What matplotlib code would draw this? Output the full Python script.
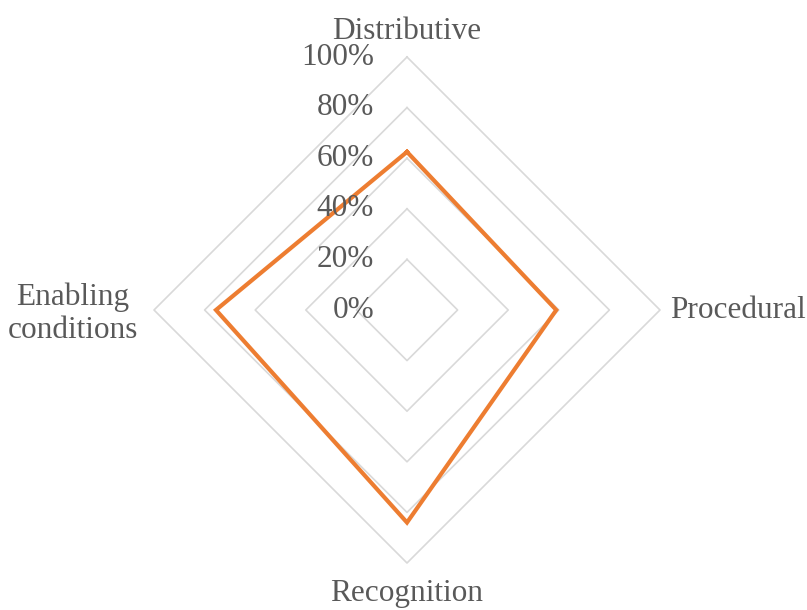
import numpy as np
import matplotlib
matplotlib.use("Agg")
from matplotlib import pyplot as plt

# Valeurs (en %)
categories = ["Distributive", "Procedural", "Recognition", "Enabling\nconditions"]
values = [62.5, 59, 84, 75.5]
grid_levels = [20, 40, 60, 80, 100]
tick_labels = ["0%", "20%", "40%", "60%", "80%", "100%"]

plt.rcParams['font.family'] = ['Liberation Serif', 'DejaVu Serif']
text_col = "#595959"

fig = plt.figure(figsize=(8.07, 6.10), dpi=100)
ax = fig.add_axes([0, 0, 1, 1])
ax.set_xlim(-407/253, 400/253)
ax.set_ylim(-300/253, 310/253)
ax.set_aspect("equal")
ax.axis("off")

n = len(categories)
theta = np.arange(n) * 2*np.pi/n  # sens horaire depuis le haut
theta_c = np.append(theta, theta[0])

# grille en losange
for lv in grid_levels:
    r = lv/100
    ax.plot(r*np.sin(theta_c), r*np.cos(theta_c), color="#D9D9D9", lw=1.2, zorder=1)

# série
v = np.array(values + [values[0]])/100
ax.plot(v*np.sin(theta_c), v*np.cos(theta_c), color="#ED7D31", lw=3.0,
        solid_joinstyle="miter", zorder=3)

fs = 22.5
# étiquettes de l'axe radial
for i, lab in enumerate(tick_labels):
    r = i*20/100
    ax.text(-0.13, r, lab, ha="right", va="center", fontsize=fs, color=text_col)

# étiquettes des catégories
ax.text(0, 1.10, categories[0], ha="center", va="center", fontsize=fs, color=text_col)
ax.text(1.04, 0, categories[1], ha="left", va="center", fontsize=fs, color=text_col)
ax.text(0, -1.12, categories[2], ha="center", va="center", fontsize=fs, color=text_col)
ax.text(-1.32, -0.015, categories[3], ha="center", va="center", fontsize=fs, color=text_col,
        linespacing=1.15)

fig.savefig("out.png", dpi=100)
